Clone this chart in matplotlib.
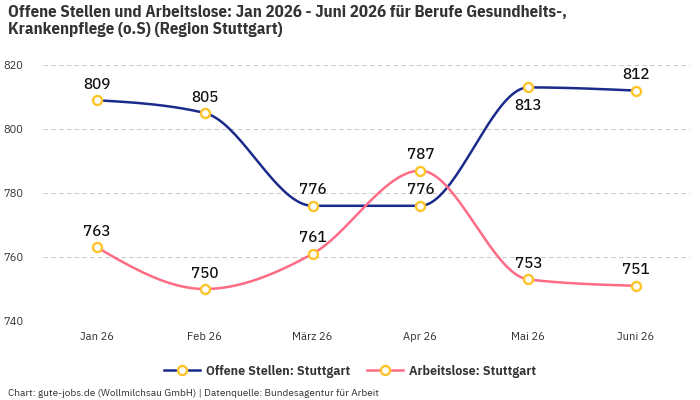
import numpy as np
import matplotlib
matplotlib.use("Agg")
import matplotlib.pyplot as plt
from matplotlib.lines import Line2D

months = ["Jan 26", "Feb 26", "März 26", "Apr 26", "Mai 26", "Juni 26"]
offene = [809, 805, 776, 776, 813, 812]
arbeitslose = [763, 750, 761, 787, 753, 751]
yticks = [740, 760, 780, 800, 820]

plt.rcParams['font.family'] = ['IBM Plex Sans', 'DejaVu Sans']
cond = ['IBM Plex Sans Condensed', 'DejaVu Sans']
heavy = ['IBM Plex Sans JP', 'IBM Plex Sans', 'DejaVu Sans']


def monotone_x(x, y, n=40):
    x = np.asarray(x, float); y = np.asarray(y, float)
    m = len(x)
    h = np.diff(x); s = np.diff(y) / h
    t = np.zeros(m)
    for i in range(1, m - 1):
        h0, h1, s0, s1 = h[i-1], h[i], s[i-1], s[i]
        p = (s0 * h1 + s1 * h0) / (h0 + h1)
        t[i] = (np.sign(s0) + np.sign(s1)) * min(abs(s0), abs(s1), 0.5 * abs(p))
    t[0] = (3 * s[0] - t[1]) / 2
    t[-1] = (3 * s[-1] - t[-2]) / 2
    xs, ys = [], []
    u = np.linspace(0, 1, n)
    for i in range(m - 1):
        dx = h[i] / 3
        P = [(x[i], y[i]), (x[i] + dx, y[i] + dx * t[i]),
             (x[i+1] - dx, y[i+1] - dx * t[i+1]), (x[i+1], y[i+1])]
        b = [(1-u)**3, 3*(1-u)**2*u, 3*(1-u)*u**2, u**3]
        xs.extend(sum(b[k] * P[k][0] for k in range(4)))
        ys.extend(sum(b[k] * P[k][1] for k in range(4)))
    return np.array(xs), np.array(ys)


blue = "#1b2b8c"
pink = "#fd6b84"
marker_edge = "#fcc42a"
mk = dict(marker='o', ms=6.5, mfc='white', mec=marker_edge, mew=1.7)

fig = plt.figure(figsize=(7, 4), dpi=100)
ax = fig.add_axes([43/700, 1-321/400, 647/700, 256/400])
x = np.arange(len(months))

for vals, col, above in [(offene, blue, [True, True, True, True, False, True]),
                         (arbeitslose, pink, [True]*6)]:
    sx, sy = monotone_x(x, vals)
    ax.plot(sx, sy, color=col, lw=1.8, zorder=2, solid_capstyle='round')
    ax.plot(x, vals, ls='none', zorder=3, **mk)
    for xi, v, a in zip(x, vals, above):
        ax.annotate(str(v), (xi, v), xytext=(0, 6 if a else -8),
                    textcoords='offset points', ha='center',
                    va='bottom' if a else 'top', fontsize=10.5,
                    family=heavy, fontweight=500, color='#111111', zorder=4)

ax.set_xlim(-0.5, len(months) - 0.5)
ax.set_ylim(740, 820)
ax.set_yticks(yticks)
ax.set_xticks(x)
ax.set_xticklabels(months)
ax.tick_params(axis='both', length=0, labelsize=8, labelcolor='#333333')
ax.tick_params(axis='y', pad=14)
ax.tick_params(axis='x', pad=8)
for sp in ax.spines.values():
    sp.set_visible(False)
ax.grid(axis='y', color='#cccccc', ls=(0, (4, 3)), lw=0.8)
ax.set_axisbelow(True)

fig.text(8/700, 1-21/400, "Offene Stellen und Arbeitslose: Jan 2026 - Juni 2026 für Berufe Gesundheits-,\nKrankenpflege (o.S) (Region Stuttgart)",
         family=cond, fontweight='bold', fontsize=12.2,
         color='#333333', va='center', ha='left', linespacing=1.2)

handles = [Line2D([0], [0], color=blue, lw=1.8, **mk),
           Line2D([0], [0], color=pink, lw=1.8, **mk)]
leg = fig.legend(handles, ["Offene Stellen: Stuttgart", "Arbeitslose: Stuttgart"],
                 loc='center', bbox_to_anchor=(0.5, 1-371/400), ncol=2,
                 frameon=False, handlelength=3.0, columnspacing=1.4,
                 handletextpad=0.5,
                 prop={'family': heavy, 'size': 8.6, 'weight': 'bold'})
for t in leg.get_texts():
    t.set_color('#333333')

fig.text(8/700, 1-393/400, "Chart: gute-jobs.de (Wollmilchsau GmbH) | Datenquelle: Bundesagentur für Arbeit",
         fontsize=7.2, color='#333333', va='center', ha='left')

fig.savefig("out.png", dpi=100)
